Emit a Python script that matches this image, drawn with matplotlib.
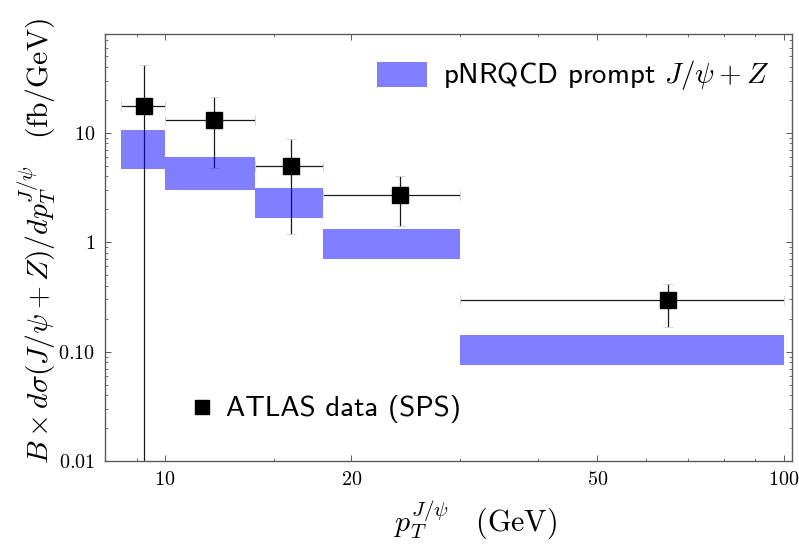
import numpy as np
import matplotlib
matplotlib.use("Agg")
import matplotlib.pyplot as plt
from matplotlib.patches import Rectangle

plt.rcParams['mathtext.fontset'] = 'cm'
plt.rcParams['font.family'] = 'cmss10'

# pT bins (GeV)
bin_lo = [8.5, 10, 14, 18, 30]
bin_hi = [10, 14, 18, 30, 100]

# pNRQCD prompt J/psi + Z band (fb/GeV)
theory_lo = [4.69, 2.97, 1.65, 0.695, 0.075]
theory_hi = [10.7, 6.0, 3.14, 1.32, 0.143]

# ATLAS data (SPS)
data_pt = [9.25, 12.0, 16.0, 24.0, 65.1]
data_val = [17.5, 13.0, 4.95, 2.69, 0.294]
data_up = [41.6, 21.1, 8.8, 4.05, 0.413]
data_dn = [0.0, 4.72, 1.18, 1.40, 0.167]

xticks = [10, 20, 50, 100]
xtick_labels = ['$10$', '$20$', '$50$', '$100$']
xminor = [9, 15, 30, 40, 60, 70, 80, 90]
yticks = [0.01, 0.1, 1, 10]
ytick_labels = ['$0.01$', '$0.10$', '$1$', '$10$']

fig = plt.figure(figsize=(7.99, 5.46), dpi=100)
ax = fig.add_axes([0.1314, 0.1557, 0.8595, 0.782])
ax.set_xscale('log')
ax.set_yscale('log')

pt = np.array(data_pt)
val = np.array(data_val)
xerr = [pt - np.array(bin_lo), np.array(bin_hi) - pt]
yerr = [val - np.array(data_dn), np.array(data_up) - val]

eb = ax.errorbar(pt, val, xerr=xerr, yerr=yerr, fmt='s', color='#1a1a1a',
                 ms=11.5, mfc='black', mec='black', elinewidth=0.9,
                 capsize=3.5, capthick=0.6, zorder=2)
for cap in eb[1]:
    cap.set_markeredgecolor('#cfcfcf')

# theory band drawn over the data with half opacity
lo = np.array(bin_lo)
ax.bar(lo, np.array(theory_hi) - np.array(theory_lo), width=np.array(bin_hi) - lo,
       bottom=theory_lo, align='edge', color='blue', alpha=0.5, linewidth=0, zorder=3)

ax.set_xlim(8.0, 103)
ax.set_ylim(0.01, 80)

ax.set_xticks(xticks)
ax.set_xticklabels(xtick_labels)
ax.set_xticks(xminor, minor=True)
ax.xaxis.set_minor_formatter(matplotlib.ticker.NullFormatter())
ax.set_yticks(yticks)
ax.set_yticklabels(ytick_labels)
ax.yaxis.set_minor_locator(matplotlib.ticker.LogLocator(base=10, subs=np.arange(2, 10)))
ax.yaxis.set_minor_formatter(matplotlib.ticker.NullFormatter())

ax.tick_params(which='both', direction='in', top=True, right=True,
               color='#5a5a5a', labelsize=14.5, pad=7)
ax.tick_params(which='major', length=4.5, width=0.7)
ax.tick_params(which='minor', length=2.5, width=0.6)
for s in ax.spines.values():
    s.set_color('#5a5a5a')
    s.set_linewidth(1.0)

ax.set_xlabel(r'$p_T^{J/\psi}\quad(\mathrm{GeV})$', fontsize=21.5, va='center')
ax.xaxis.set_label_coords(0.540, -0.138)
ax.set_ylabel(r'$B\times d\sigma(J/\psi+Z)/dp_T^{J/\psi}\quad(\mathrm{fb/GeV})$',
              fontsize=21.3, va='center')
ax.yaxis.set_label_coords(-0.099, 0.514)

# legend entries
ax.add_patch(Rectangle((0.396, 0.876), 0.0728, 0.0585, transform=ax.transAxes,
                       facecolor='blue', alpha=0.5, linewidth=0, zorder=4))
ax.text(0.492, 0.905, r'pNRQCD prompt $J/\psi+Z$', transform=ax.transAxes,
        fontsize=20.8, va='center', ha='left')
ax.plot([0.141], [0.126], 's', color='black', ms=10.5, transform=ax.transAxes)
ax.text(0.176, 0.121, 'ATLAS data (SPS)', transform=ax.transAxes,
        fontsize=20.8, va='center', ha='left')

fig.savefig('out.png', dpi=100)
